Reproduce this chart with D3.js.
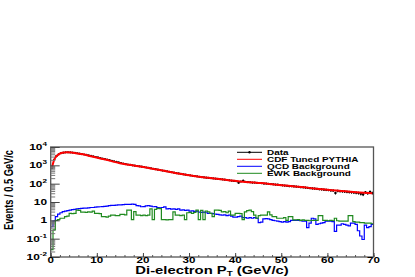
<!DOCTYPE html>
<html>
<head>
<style>
    body { margin: 0; background: #fff; }
    svg text { font-family: "Liberation Sans", Arial, sans-serif; font-weight: bold; fill: #000; }
</style>
</head>
<body>
<script src="https://d3js.org/d3.v7.min.js"></script>
<script>
// data, 0.5 GeV/c bins from 0 to 70
const binWidth = 0.5;

const dataCounts = [
    700, 2000, 3200, 4000, 4600, 4900, 5100, 5150, 5050, 4950,
    4750, 4550, 4350, 4100, 3900, 3700, 3450, 3250, 3050, 2850,
    2700, 2500, 2350, 2200, 2050, 1920, 1780, 1650, 1550, 1440,
    1330, 1250, 1170, 1110, 1050, 1000, 960, 920, 880, 840,
    800, 760, 720, 690, 650, 615, 580, 550, 520, 495,
    470, 445, 420, 400, 375, 360, 340, 325, 310, 295,
    280, 270, 258, 248, 238, 228, 220, 212, 205, 200,
    192, 188, 182, 176, 170, 165, 158, 152, 146, 141,
    137, 112, 131, 145, 125, 122, 119, 114, 114, 111,
    109, 106, 101, 101, 98, 95, 92, 89, 88, 84,
    81, 79, 77, 73, 73, 71, 69, 67, 64, 63,
    61, 59, 57, 55, 54, 52, 50, 49, 47, 46,
    45, 43, 42, 31, 40, 39, 38, 37, 36, 35,
    34, 33, 32, 31, 28, 26, 34, 30, 36, 31
];

const pythiaX = [0.25, 0.75, 1.25, 1.75, 2.5, 3.5, 4.5, 5.5, 7, 9, 11, 13, 15, 17, 19, 21, 23, 25, 27, 29,
    31, 33, 35, 37, 39, 41, 43, 45, 47, 49, 51, 53, 55, 57, 59, 61, 63, 65, 67, 69.75];
const pythiaY = [720, 2000, 3200, 4000, 4800, 5100, 5000, 4600, 4000, 3000, 2300, 1750, 1300, 1070, 900, 740, 590, 480, 380, 316,
    263, 224, 200, 174, 148, 132, 120, 110, 100, 87, 79, 71, 63, 55, 49, 44, 40, 36, 33, 30];

const qcdCounts = [
    0.45, 0.9, 1.6, 2.2, 2.6, 3.0, 3.2, 3.4, 3.6, 3.8,
    4.0, 4.2, 4.3, 4.5, 4.6, 4.6, 4.8, 5.0, 5.0, 5.2,
    5.4, 5.5, 5.6, 5.8, 6.0, 6.3, 6.5, 6.6, 6.8, 6.9,
    7.0, 7.2, 7.4, 7.5, 7.5, 7.6, 7.4, 6.4, 6.2, 5.5,
    5.6, 6.2, 6.3, 6.0, 5.5, 5.6, 4.9, 4.8, 5.0, 5.4,
    4.2, 4.3, 4.1, 4.2, 4.0, 4.2, 3.6, 3.7, 3.5, 3.6,
    3.2, 3.3, 3.1, 3.2, 2.8, 2.7, 2.8, 2.6, 2.4, 2.4,
    2.3, 2.2, 2.1, 2.0, 1.9, 2.0, 1.8, 1.9, 1.7, 1.5,
    1.5, 1.6, 1.7, 1.4, 1.4, 1.3, 1.4, 1.3, 1.4, 1.3,
    0.75, 0.8, 1.2, 1.25, 1.2, 1.1, 1.0, 0.95, 0.9, 0.85,
    0.8, 0.85, 0.8, 0.85, 1.0, 1.0, 1.0, 1.0, 0.95, 0.9,
    0.9, 0.4, 0.7, 1.3, 1.2, 0.6, 0.65, 0.7, 0.75, 0.9,
    0.9, 0.9, 0.85, 0.25, 0.55, 0.55, 0.65, 0.6, 0.55, 0.5,
    0.7, 0.7, 0.6, 0.27, 0.14, 0.09, 0.55, 0.4, 0.45, 0.6
];

const ewkCounts = [
    0.025, 0.3, 1.0, 1.1, 1.3, 1.3, 1.6, 1.7, 2.4, 2.3,
    2.4, 3.6, 3.5, 2.8, 2.8, 2.7, 2.9, 2.8, 3.2, 2.4,
    2.4, 2.3, 1.6, 1.6, 1.5, 1.7, 1.9, 1.9, 1.8, 1.8,
    2.1, 2.1, 2.0, 3.6, 3.6, 1.1, 3.0, 1.9, 1.9, 1.8,
    1.9, 1.8, 1.9, 4.2, 1.1, 4.0, 4.5, 4.3, 1.1, 1.1,
    1.05, 1.1, 1.1, 2.9, 1.9, 1.9, 1.8, 1.9, 1.1, 2.6,
    2.7, 2.4, 2.7, 3.6, 1.1, 3.5, 1.1, 3.2, 2.9, 2.4,
    1.6, 3.6, 3.6, 3.5, 2.9, 3.0, 2.6, 3.2, 1.9, 1.9,
    2.4, 2.4, 2.3, 1.1, 2.9, 3.4, 3.6, 3.0, 1.9, 1.3,
    1.8, 1.9, 1.9, 1.9, 2.9, 2.0, 1.6, 1.6, 1.3, 1.3,
    1.3, 1.4, 1.0, 1.6, 1.6, 1.05, 1.05, 1.1, 1.0, 1.05,
    1.0, 1.0, 0.95, 1.0, 1.0, 1.0, 1.8, 1.8, 1.0, 1.0,
    0.95, 1.0, 0.95, 1.3, 0.95, 0.9, 0.9, 0.9, 0.9, 1.8,
    1.8, 0.85, 0.8, 0.8, 0.75, 0.75, 0.7, 0.7, 0.7, 0.65
];

const xTicks = [0, 10, 20, 30, 40, 50, 60, 70];
const yTicks = [1e-2, 1e-1, 1, 10, 1e2, 1e3, 1e4];
const yTickBase = ["10", "10", "1", "10", "10", "10", "10"];
const yTickExp = ["-2", "-1", "", "", "2", "3", "4"];
const legendNames = ["Data", "CDF Tuned PYTHIA", "QCD Background", "EWK Background"];
const legendColors = ["#000", "#ff0000", "#0000ff", "#1f8a1f"];

const W = 415, H = 277, SX = 1.4;

const svg = d3.select("body").append("svg")
    .attr("width", W)
    .attr("height", H);

const x = d3.scaleLinear().domain([0, 70]).range([50.7, 373.5]);
const y = d3.scaleLog().domain([0.01, 1e4]).range([257, 147]);

// text in the reference is stretched sideways
function label(px, py, str, size, anchor, rot) {
    return svg.append("text")
        .attr("transform", `translate(${px},${py}) scale(${SX},1)` + (rot ? ` rotate(${rot})` : ""))
        .attr("text-anchor", anchor)
        .style("font-size", size + "px")
        .text(str);
}

svg.append("clipPath").attr("id", "clip")
    .append("rect")
    .attr("x", x(0)).attr("y", y(1e4))
    .attr("width", x(70) - x(0)).attr("height", y(0.01) - y(1e4));

const plot = svg.append("g").attr("clip-path", "url(#clip)");

function hist(counts, color) {
    const pts = counts.map((v, i) => [i * binWidth, v]);
    pts.push([counts.length * binWidth, counts[counts.length - 1]]);
    plot.append("path")
        .attr("d", d3.line().x(d => x(d[0])).y(d => y(d[1])).curve(d3.curveStepAfter)(pts))
        .attr("fill", "none")
        .attr("stroke", color)
        .attr("stroke-width", 1.2);
}

hist(qcdCounts, legendColors[2]);
hist(ewkCounts, legendColors[3]);

// data points with errors
const dataG = plot.append("g").attr("stroke", "#000").attr("stroke-width", 1);
dataCounts.forEach((v, i) => {
    const c = i * binWidth + binWidth / 2, e = Math.sqrt(v);
    dataG.append("line")
        .attr("x1", x(c - binWidth / 2)).attr("x2", x(c + binWidth / 2))
        .attr("y1", y(v)).attr("y2", y(v));
    dataG.append("line")
        .attr("x1", x(c)).attr("x2", x(c))
        .attr("y1", y(v + e)).attr("y2", y(Math.max(v - e, 0.01)));
    dataG.append("circle")
        .attr("cx", x(c)).attr("cy", y(v)).attr("r", 1.1)
        .attr("fill", "#000").attr("stroke", "none");
});

plot.append("path")
    .attr("d", d3.line().x((d, i) => x(pythiaX[i])).y(d => y(d)).curve(d3.curveMonotoneX)(pythiaY))
    .attr("fill", "none")
    .attr("stroke", legendColors[1])
    .attr("stroke-width", 2);

// frame
svg.append("rect")
    .attr("x", x(0)).attr("y", y(1e4))
    .attr("width", x(70) - x(0)).attr("height", y(0.01) - y(1e4))
    .attr("fill", "none").attr("stroke", "#555").attr("stroke-width", 1.3);

// y axis ticks (log minor ticks included)
const yMinor = y.ticks().filter(t => !yTicks.some(m => Math.abs(m - t) / m < 1e-6));
svg.append("g")
    .attr("transform", `translate(${x(0)},0)`)
    .call(d3.axisLeft(y).tickValues(yMinor).tickSize(-4.5).tickFormat(""))
    .call(g => g.select(".domain").remove())
    .selectAll("line").attr("stroke", "#777");
svg.append("g")
    .attr("transform", `translate(${x(0)},0)`)
    .call(d3.axisLeft(y).tickValues(yTicks).tickSize(-9).tickFormat(""))
    .call(g => g.select(".domain").remove())
    .selectAll("line").attr("stroke", "#444");

// x axis ticks
svg.append("g")
    .attr("transform", `translate(0,${y(0.01)})`)
    .call(d3.axisBottom(x).tickValues(d3.range(0, 71, 2)).tickSize(-2).tickFormat(""))
    .call(g => g.select(".domain").remove())
    .selectAll("line").attr("stroke", "#555");
svg.append("g")
    .attr("transform", `translate(0,${y(0.01)})`)
    .call(d3.axisBottom(x).tickValues(xTicks).tickSize(-4).tickFormat(""))
    .call(g => g.select(".domain").remove())
    .selectAll("line").attr("stroke", "#444");

// tick labels
xTicks.forEach(t => label(x(t), 262.8, String(t), 8.3, "middle"));

yTicks.forEach((t, i) => {
    const py = y(t);
    const txt = svg.append("text")
        .attr("transform", `translate(47,${py + 3}) scale(${SX},1)`)
        .attr("text-anchor", "end")
        .style("font-size", "8.5px");
    txt.append("tspan").text(yTickBase[i]);
    if (yTickExp[i]) {
        txt.append("tspan").attr("dy", -4).style("font-size", "5.8px").text(yTickExp[i]);
    }
});

// titles
const xt = svg.append("text")
    .attr("transform", `translate(212,274.3) scale(${SX},1)`)
    .attr("text-anchor", "middle")
    .style("font-size", "10.6px");
xt.append("tspan").text("Di-electron P");
xt.append("tspan").attr("dy", 1.8).style("font-size", "7px").text("T");
xt.append("tspan").attr("dy", -1.8).text(" (GeV/c)");

label(13, 190, "Events / 0.5 GeV/c", 9.3, "middle", -90);

// legend
const legendY = [152.3, 159.3, 166.3, 173.3];
legendNames.forEach((n, i) => {
    svg.append("line")
        .attr("x1", 237).attr("x2", 262)
        .attr("y1", legendY[i]).attr("y2", legendY[i])
        .attr("stroke", legendColors[i]).attr("stroke-width", 1);
    if (i == 0) {
        svg.append("circle").attr("cx", 249.5).attr("cy", legendY[i]).attr("r", 1.2).attr("fill", "#000");
    }
    label(267, legendY[i] + 2.5, n, 7.1, "start");
});
</script>
</body>
</html>
